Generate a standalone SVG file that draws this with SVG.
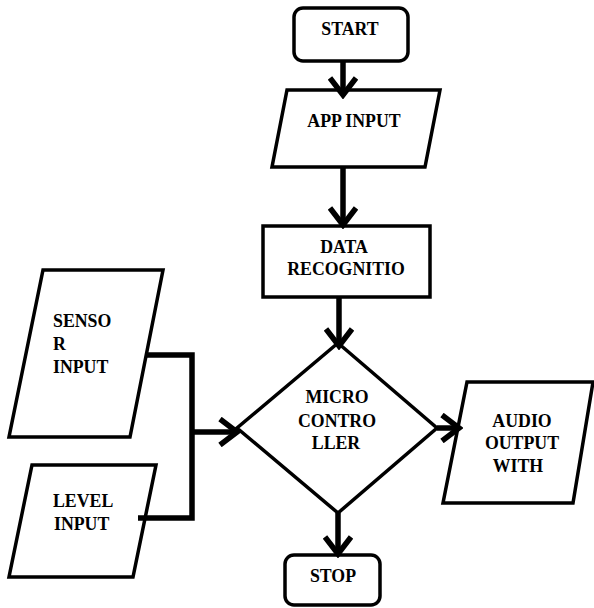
<svg xmlns="http://www.w3.org/2000/svg" width="594" height="608" viewBox="0 0 594 608">
<style>
.box{fill:#fff;stroke:#000;stroke-width:3.5;stroke-linejoin:miter}
.t{font-family:'Liberation Serif','Times New Roman',serif;font-weight:bold;font-size:17.8px;fill:#000}
.c{text-anchor:middle}
.conn{fill:none;stroke:#000;stroke-width:5.5;stroke-linejoin:miter}
</style>
<defs>
<marker id="arr" viewBox="0 0 24 30" refX="20" refY="15" markerWidth="24" markerHeight="30" markerUnits="userSpaceOnUse" orient="auto">
<path d="M3,2 L20,15 L3,28" fill="none" stroke="#000" stroke-width="5.5"/>
</marker>
</defs>
<rect width="594" height="608" fill="#fff"/>
<g id="start">
<rect class="box" x="294" y="8" width="114" height="53" rx="9"/>
<text class="t c" x="350" y="35">START</text>
</g>
<g id="app-input">
<polygon class="box" points="287,90 440,90 425,167 272,167"/>
<text class="t c" x="354" y="127">APP INPUT</text>
</g>
<g id="data-recognition">
<rect class="box" x="263" y="226" width="167" height="71"/>
<text class="t c" x="344" y="253">DATA</text>
<text class="t c" x="346" y="275">RECOGNITIO</text>
</g>
<g id="sensor-input">
<polygon class="box" points="43,270 163,270 130,437 9,437"/>
<text class="t" x="53" y="327">SENSO</text>
<text class="t" x="53" y="350">R</text>
<text class="t" x="53" y="373">INPUT</text>
</g>
<g id="level-input">
<polygon class="box" points="32,465 156,465 133,577 9,577"/>
<text class="t" x="53" y="507">LEVEL</text>
<text class="t" x="54" y="530">INPUT</text>
</g>
<g id="microcontroller">
<polygon class="box" points="338,343 437,428 338,513 237,428"/>
<text class="t c" x="337" y="403">MICRO</text>
<text class="t c" x="337" y="427">CONTRO</text>
<text class="t c" x="336" y="449">LLER</text>
</g>
<g id="audio-output">
<polygon class="box" points="467,382 593,382 573,503 443,503"/>
<text class="t c" x="522" y="427">AUDIO</text>
<text class="t c" x="522" y="449">OUTPUT</text>
<text class="t c" x="518" y="472">WITH</text>
</g>
<g id="stop">
<rect class="box" x="285" y="555" width="95" height="50" rx="9"/>
<text class="t c" x="333" y="582">STOP</text>
</g>
<g id="connectors">
<path class="conn" d="M343,62 V95" marker-end="url(#arr)"/>
<path class="conn" d="M343,167 V225" marker-end="url(#arr)"/>
<path class="conn" d="M339,297 V346" marker-end="url(#arr)"/>
<path class="conn" d="M146,355 H192 V518 H138"/>
<path class="conn" d="M192,432 H237" marker-end="url(#arr)"/>
<path class="conn" d="M437,428 H459" marker-end="url(#arr)"/>
<path class="conn" d="M338,513 V554" marker-end="url(#arr)"/>
</g>
</svg>
